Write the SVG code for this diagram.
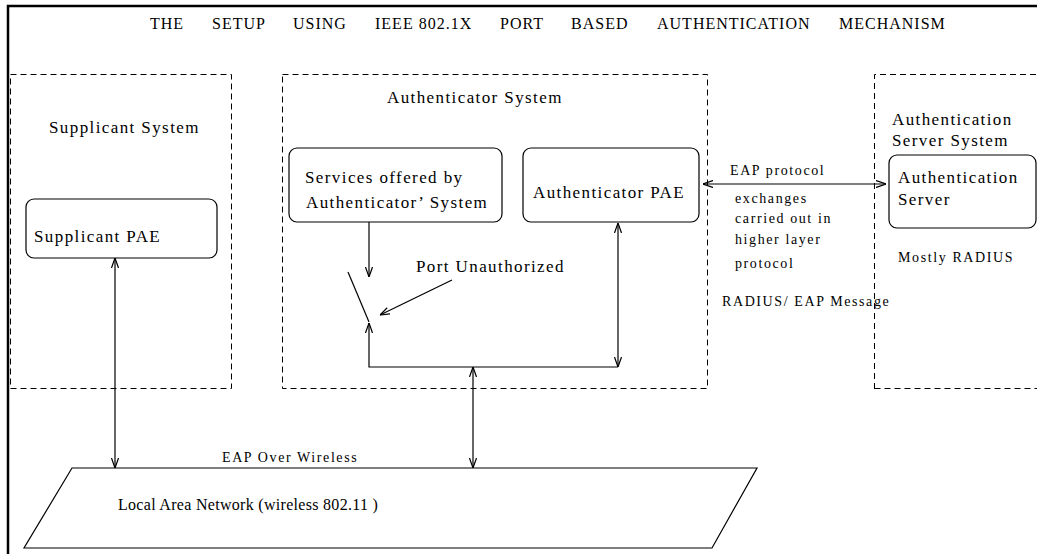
<svg xmlns="http://www.w3.org/2000/svg" width="1037" height="554" viewBox="0 0 1037 554">
<style>
text{font-family:"Liberation Serif","Times New Roman",serif;fill:#000}
.t{font-size:17px;letter-spacing:1.4px}
.s{font-size:14px;letter-spacing:1.6px}
.dash{fill:none;stroke:#000;stroke-width:1;stroke-dasharray:6 4}
.box{fill:none;stroke:#000;stroke-width:1.2}
.ln{fill:none;stroke:#000;stroke-width:1.2}
</style>
<defs>
<marker id="a" viewBox="0 0 10 8" refX="10" refY="4" markerWidth="10" markerHeight="8" markerUnits="userSpaceOnUse" orient="auto-start-reverse">
<path d="M0,0.5 L10,4 L0,7.5" fill="none" stroke="#000" stroke-width="1.2"/>
</marker>
</defs>
<rect width="1037" height="554" fill="#fff"/>
<path d="M8,554 V6 H1037" fill="none" stroke="#000" stroke-width="2.5"/>
<text font-size="16" letter-spacing="1" y="29"><tspan x="150">THE</tspan><tspan x="212">SETUP</tspan><tspan x="293">USING</tspan><tspan x="375">IEEE 802.1X</tspan><tspan x="500">PORT</tspan><tspan x="571">BASED</tspan><tspan x="657">AUTHENTICATION</tspan><tspan x="839">MECHANISM</tspan></text>
<g id="supplicant-system">
<rect class="dash" x="10.5" y="74.5" width="221" height="314"/>
<text class="t" x="49" y="133">Supplicant System</text>
</g>
<g id="supplicant-pae">
<rect class="box" x="26" y="199" width="191" height="59" rx="8"/>
<text class="t" x="34" y="242">Supplicant PAE</text>
</g>
<g id="authenticator-system">
<rect class="dash" x="282.5" y="74.5" width="425" height="314"/>
<text class="t" x="387" y="103">Authenticator System</text>
</g>
<g id="services">
<rect class="box" x="289" y="148" width="213" height="74" rx="8"/>
<text class="t" x="305" y="183">Services offered by</text>
<text class="t" x="306" y="208">Authenticator’ System</text>
</g>
<g id="authenticator-pae">
<rect class="box" x="523" y="148" width="176" height="74" rx="8"/>
<text class="t" x="533" y="198">Authenticator PAE</text>
</g>
<g id="auth-server-system">
<path class="dash" d="M874.5,389 V74.5 H1037 M874.5,388.5 H1037"/>
<text class="t" x="892" y="125">Authentication</text>
<text class="t" x="892" y="146">Server System</text>
</g>
<g id="auth-server">
<rect class="box" x="889" y="155" width="147" height="73" rx="8"/>
<text class="t" x="898" y="183">Authentication</text>
<text class="t" x="898" y="205">Server</text>
<text class="s" x="898" y="262">Mostly RADIUS</text>
</g>
<g id="lan">
<path class="ln" d="M72,468 H757 L712,548 H24 Z"/>
<text font-size="16" letter-spacing="0.3" x="118" y="510">Local Area Network (wireless 802.11 )</text>
</g>
<g id="switch">
<line class="ln" x1="348" y1="272" x2="369" y2="322"/>
<text class="t" x="416" y="272">Port Unauthorized</text>
</g>
<g id="connectors">
<line class="ln" x1="369" y1="222" x2="369" y2="277" marker-end="url(#a)"/>
<path class="ln" d="M618,367 H369 V323" marker-end="url(#a)"/>
<line class="ln" x1="618" y1="223" x2="618" y2="367" marker-start="url(#a)" marker-end="url(#a)"/>
<line class="ln" x1="452" y1="280" x2="380" y2="315" marker-end="url(#a)"/>
<line class="ln" x1="115" y1="258" x2="115" y2="468" marker-start="url(#a)" marker-end="url(#a)"/>
<line class="ln" x1="473" y1="367" x2="473" y2="468" marker-start="url(#a)" marker-end="url(#a)"/>
<line class="ln" x1="703" y1="184" x2="886" y2="184" marker-start="url(#a)" marker-end="url(#a)"/>
<text class="s" x="730" y="175">EAP protocol</text>
<text class="s" x="735" y="203">exchanges</text>
<text class="s" x="735" y="223">carried out in</text>
<text class="s" x="735" y="244">higher layer</text>
<text class="s" x="735" y="268">protocol</text>
<text class="s" x="722" y="306">RADIUS/ EAP Message</text>
<text class="s" x="222" y="462">EAP Over Wireless</text>
</g>
</svg>
